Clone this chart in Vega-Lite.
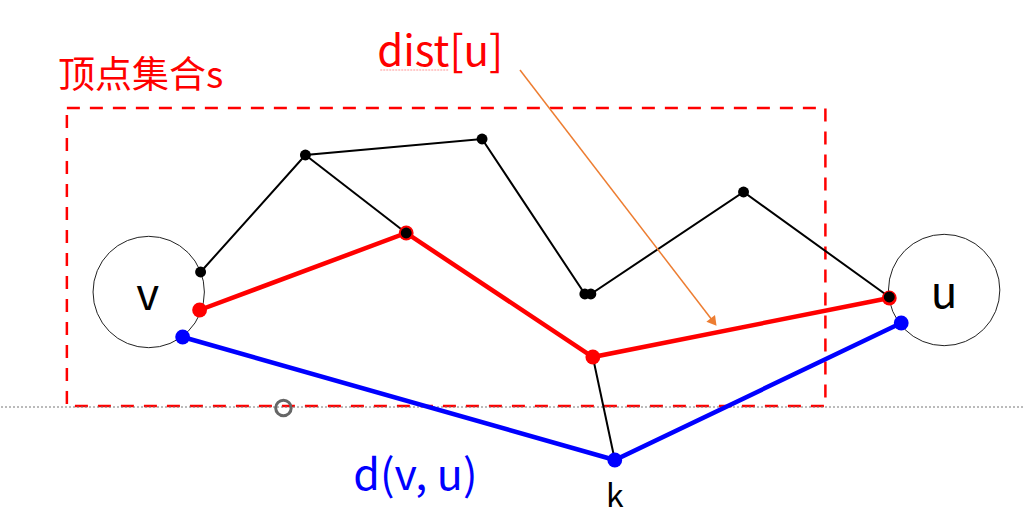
{
  "$schema": "https://vega.github.io/schema/vega-lite/v6.json",
  "width": 1024,
  "height": 528,
  "padding": 0,
  "autosize": {"type": "fit", "contains": "padding"},
  "background": "white",
  "config": {"view": {"stroke": null}, "font": "Noto Sans CJK SC"},
  "datasets": {
    "paths": [
      {"route": "other", "seg": "a", "ord": 1, "x": 200, "y": 272},
      {"route": "other", "seg": "a", "ord": 2, "x": 305, "y": 155},
      {"route": "other", "seg": "a", "ord": 3, "x": 482, "y": 139},
      {"route": "other", "seg": "a", "ord": 4, "x": 585, "y": 294},
      {"route": "other", "seg": "a", "ord": 5, "x": 591, "y": 294},
      {"route": "other", "seg": "a", "ord": 6, "x": 744, "y": 192},
      {"route": "other", "seg": "a", "ord": 7, "x": 890, "y": 297},
      {"route": "other", "seg": "b", "ord": 1, "x": 305, "y": 155},
      {"route": "other", "seg": "b", "ord": 2, "x": 406, "y": 233},
      {"route": "other", "seg": "c", "ord": 1, "x": 593, "y": 357},
      {"route": "other", "seg": "c", "ord": 2, "x": 615, "y": 460},
      {"route": "dist", "seg": "r", "ord": 1, "x": 199, "y": 310},
      {"route": "dist", "seg": "r", "ord": 2, "x": 406, "y": 233},
      {"route": "dist", "seg": "r", "ord": 3, "x": 593, "y": 357},
      {"route": "dist", "seg": "r", "ord": 4, "x": 890, "y": 298},
      {"route": "d", "seg": "bl", "ord": 1, "x": 182, "y": 337},
      {"route": "d", "seg": "bl", "ord": 2, "x": 615, "y": 460},
      {"route": "d", "seg": "bl", "ord": 3, "x": 902, "y": 323}
    ],
    "nodes": [
      {"route": "dist", "x": 199, "y": 310},
      {"route": "dist", "x": 593, "y": 357},
      {"route": "dist", "x": 406, "y": 233},
      {"route": "dist", "x": 890, "y": 298},
      {"route": "d", "x": 182, "y": 337},
      {"route": "d", "x": 615, "y": 460},
      {"route": "d", "x": 902, "y": 323}
    ],
    "blacknodes": [
      {"x": 200, "y": 272},
      {"x": 305, "y": 155},
      {"x": 482, "y": 139},
      {"x": 585, "y": 294},
      {"x": 591, "y": 294},
      {"x": 744, "y": 192},
      {"x": 406, "y": 233},
      {"x": 890, "y": 297}
    ]
  },
  "layer": [
    {
      "data": {"values": [{"x": 66, "y": 108, "x2": 826, "y2": 406}]},
      "mark": {"type": "rect", "fill": null, "stroke": "#ff0000", "strokeWidth": 2.5, "strokeDash": [13, 10]},
      "encoding": {
        "x": {"field": "x", "type": "quantitative", "scale": {"domain": [0, 1024], "nice": false, "zero": false}, "axis": null},
        "x2": {"field": "x2"},
        "y": {"field": "y", "type": "quantitative", "scale": {"domain": [0, 528], "nice": false, "zero": false, "reverse": true}, "axis": null},
        "y2": {"field": "y2"}
      }
    },
    {
      "data": {"values": [{"x": 0, "x2": 1024, "y": 407}]},
      "mark": {"type": "rule", "stroke": "#777777", "strokeWidth": 1, "strokeDash": [2, 2]},
      "encoding": {
        "x": {"field": "x", "type": "quantitative"},
        "x2": {"field": "x2"},
        "y": {"field": "y", "type": "quantitative"}
      }
    },
    {
      "data": {"values": [{"x": 283, "y": 408}]},
      "mark": {"type": "point", "filled": false, "stroke": "#666666", "strokeWidth": 3, "size": 240, "opacity": 1},
      "encoding": {
        "x": {"field": "x", "type": "quantitative"},
        "y": {"field": "y", "type": "quantitative"}
      }
    },
    {
      "data": {"values": [{"name": "v", "x": 148, "y": 292}, {"name": "u", "x": 945, "y": 290}]},
      "mark": {"type": "point", "filled": false, "stroke": "#222222", "strokeWidth": 1, "size": 12400, "opacity": 1},
      "encoding": {
        "x": {"field": "x", "type": "quantitative"},
        "y": {"field": "y", "type": "quantitative"}
      }
    },
    {
      "data": {"name": "paths"},
      "transform": [{"filter": "datum.route === 'other'"}],
      "mark": {"type": "line", "strokeWidth": 2, "color": "#000000"},
      "encoding": {
        "x": {"field": "x", "type": "quantitative"},
        "y": {"field": "y", "type": "quantitative"},
        "detail": {"field": "seg", "type": "nominal"},
        "order": {"field": "ord", "type": "quantitative"}
      }
    },
    {
      "data": {"name": "paths"},
      "transform": [{"filter": "datum.route !== 'other'"}],
      "mark": {"type": "line", "strokeWidth": 4.5},
      "encoding": {
        "x": {"field": "x", "type": "quantitative"},
        "y": {"field": "y", "type": "quantitative"},
        "detail": {"field": "seg", "type": "nominal"},
        "order": {"field": "ord", "type": "quantitative"},
        "color": {"field": "route", "type": "nominal", "scale": {"domain": ["dist", "d"], "range": ["#ff0000", "#0000ff"]}, "legend": null}
      }
    },
    {
      "data": {"name": "nodes"},
      "mark": {"type": "point", "filled": true, "size": 220, "opacity": 1},
      "encoding": {
        "x": {"field": "x", "type": "quantitative"},
        "y": {"field": "y", "type": "quantitative"},
        "color": {"field": "route", "type": "nominal", "scale": {"domain": ["dist", "d"], "range": ["#ff0000", "#0000ff"]}, "legend": null}
      }
    },
    {
      "data": {"name": "blacknodes"},
      "mark": {"type": "point", "filled": true, "size": 120, "color": "#000000", "opacity": 1},
      "encoding": {
        "x": {"field": "x", "type": "quantitative"},
        "y": {"field": "y", "type": "quantitative"}
      }
    },
    {
      "data": {"values": [{"x": 520, "y": 70, "x2": 714, "y2": 322}]},
      "mark": {"type": "rule", "stroke": "#ed7d31", "strokeWidth": 1.5},
      "encoding": {
        "x": {"field": "x", "type": "quantitative"},
        "x2": {"field": "x2"},
        "y": {"field": "y", "type": "quantitative"},
        "y2": {"field": "y2"}
      }
    },
    {
      "data": {"values": [{"x": 714, "y": 322}]},
      "mark": {"type": "point", "shape": "triangle-up", "filled": true, "color": "#ed7d31", "size": 120, "angle": 142, "opacity": 1},
      "encoding": {
        "x": {"field": "x", "type": "quantitative"},
        "y": {"field": "y", "type": "quantitative"}
      }
    },
    {
      "data": {"values": [{"x": 380, "x2": 448, "y": 70}]},
      "mark": {"type": "rule", "stroke": "#ff6666", "strokeWidth": 1, "strokeDash": [2, 1], "opacity": 0.7},
      "encoding": {
        "x": {"field": "x", "type": "quantitative"},
        "x2": {"field": "x2"},
        "y": {"field": "y", "type": "quantitative"}
      }
    },
    {
      "data": {"values": [{"label": "顶点集合s", "x": 57, "y": 88}]},
      "mark": {"type": "text", "align": "left", "baseline": "alphabetic", "fontSize": 37, "color": "#ff0000"},
      "encoding": {
        "x": {"field": "x", "type": "quantitative"},
        "y": {"field": "y", "type": "quantitative"},
        "text": {"field": "label"}
      }
    },
    {
      "data": {"values": [{"label": "dist[u]", "x": 377, "y": 66}]},
      "mark": {"type": "text", "align": "left", "baseline": "alphabetic", "fontSize": 42, "color": "#ff0000"},
      "encoding": {
        "x": {"field": "x", "type": "quantitative"},
        "y": {"field": "y", "type": "quantitative"},
        "text": {"field": "label"}
      }
    },
    {
      "data": {"values": [{"label": "d(v, u)", "x": 353, "y": 490}]},
      "mark": {"type": "text", "align": "left", "baseline": "alphabetic", "fontSize": 43, "color": "#0000ff"},
      "encoding": {
        "x": {"field": "x", "type": "quantitative"},
        "y": {"field": "y", "type": "quantitative"},
        "text": {"field": "label"}
      }
    },
    {
      "data": {"values": [{"label": "v", "x": 147, "y": 310}, {"label": "u", "x": 945, "y": 308}]},
      "mark": {"type": "text", "align": "center", "baseline": "alphabetic", "fontSize": 44, "color": "#000000"},
      "encoding": {
        "x": {"field": "x", "type": "quantitative"},
        "y": {"field": "y", "type": "quantitative"},
        "text": {"field": "label"}
      }
    },
    {
      "data": {"values": [{"label": "k", "x": 615, "y": 507}]},
      "mark": {"type": "text", "align": "center", "baseline": "alphabetic", "fontSize": 32, "color": "#000000"},
      "encoding": {
        "x": {"field": "x", "type": "quantitative"},
        "y": {"field": "y", "type": "quantitative"},
        "text": {"field": "label"}
      }
    }
  ]
}
